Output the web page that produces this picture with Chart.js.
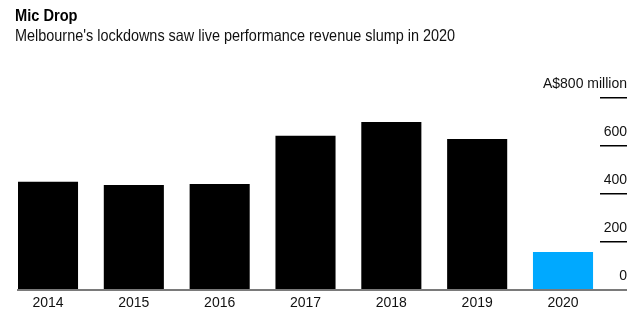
<!DOCTYPE html>
<html>
<head>
<meta charset="utf-8">
<script src="https://cdn.jsdelivr.net/npm/chart.js@4.4.1/dist/chart.umd.min.js"></script>
<style>
  html, body { margin: 0; padding: 0; background: #fff; }
  #wrap { position: relative; width: 643px; height: 321px; overflow: hidden; }
  #c { position: absolute; left: 0; top: 0; }
  .t { position: absolute; left: 15px; font-family: "Liberation Sans", Arial, sans-serif; color: #000; white-space: nowrap; line-height: 20px; transform-origin: 0 0; }
  #title { top: 6px; font-size: 17px; font-weight: bold; transform: scaleX(0.86); }
  #sub { top: 25px; font-size: 16.5px; transform: scaleX(0.875); color: #111; }
</style>
</head>
<body>
<div id="wrap">
  <canvas id="c" width="643" height="321"></canvas>
  <div class="t" id="title">Mic Drop</div>
  <div class="t" id="sub">Melbourne's lockdowns saw live performance revenue slump in 2020</div>
</div>
<script>
// Data (A$ million)
const years = ['2014', '2015', '2016', '2017', '2018', '2019', '2020'];
const revenue = [451, 437, 442, 643, 700, 629, 158];
const yTicks = [0, 200, 400, 600, 800];
const yTopLabel = 'A$800 million';
const highlightYear = '2020';

const BLACK = '#000000';
const BLUE = '#00a9ff';
const AXIS_GRAY = '#7a7a7a';
const FONT = '"Liberation Sans", Arial, sans-serif';

const points = years.map((y, i) => ({ x: Number(y), y: revenue[i] }));

new Chart(document.getElementById('c'), {
  type: 'bar',
  data: {
    datasets: [{
      data: points,
      backgroundColor: ctx => (String(ctx.raw && ctx.raw.x) === highlightYear ? BLUE : BLACK),
      borderWidth: 0,
      categoryPercentage: 1,
      barPercentage: 0.7
    }]
  },
  options: {
    responsive: false,
    animation: false,
    layout: { padding: { left: 18, right: 16, top: 98, bottom: 9 } },
    plugins: { legend: { display: false }, tooltip: { enabled: false }, title: { display: false } },
    scales: {
      x: {
        type: 'linear',
        offset: false,
        min: 2013.6505,
        max: 2020.431,
        grid: { display: false, drawTicks: false, offset: false },
        border: { display: true, color: AXIS_GRAY, width: 2 },
        afterBuildTicks: s => { s.ticks = years.map(y => ({ value: Number(y) })); },
        afterFit: s => { s.height = 22; },
        ticks: {
          autoSkip: false,
          maxRotation: 0,
          padding: 5,
          color: '#111',
          font: { family: FONT, size: 14 },
          callback: v => String(v)
        }
      },
      y: {
        position: 'right',
        min: 0,
        max: 800,
        afterBuildTicks: s => { s.ticks = yTicks.map(v => ({ value: v })); },
        afterFit: s => { s.paddingTop = 0; s.paddingBottom = 0; s.width = 27; },
        border: { display: false },
        grid: {
          drawOnChartArea: false,
          drawTicks: true,
          tickLength: 27,
          color: ctx => (ctx.tick && ctx.tick.value === 0 ? AXIS_GRAY : '#000'),
          lineWidth: ctx => (ctx.tick && ctx.tick.value === 0 ? 2 : 1.5)
        },
        ticks: {
          mirror: true,
          padding: 27,
          labelOffset: -14,
          color: '#111',
          font: { family: FONT, size: 14 },
          callback: v => (v === 800 ? yTopLabel : String(v))
        }
      }
    }
  }
});
</script>
</body>
</html>
